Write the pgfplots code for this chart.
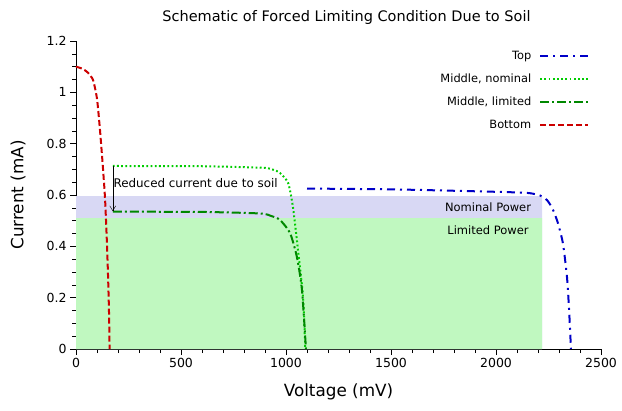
\documentclass[border=0pt]{standalone}
\usepackage{pgfplots}
\pgfplotsset{compat=1.18}
\usepackage{fontspec}
\setmainfont{DejaVu Sans}
\usetikzlibrary{calc,arrows.meta}
\definecolor{topblue}{RGB}{0,0,200}
\definecolor{nomgreen}{RGB}{0,204,0}
\definecolor{limgreen}{RGB}{0,136,0}
\definecolor{botred}{RGB}{204,0,0}
\definecolor{nomfill}{RGB}{216,216,244}
\definecolor{limfill}{RGB}{192,248,192}
\begin{document}
\begin{tikzpicture}
\begin{axis}[
  scale only axis, width=525pt, height=308pt,
  xmin=0, xmax=2500, ymin=0, ymax=1.2,
  axis lines=left, axis line style={-},
  tick align=outside,
  xtick={0,500,...,2500}, ytick={0,0.2,...,1.2},
  minor x tick num=4, minor y tick num=3,
  major tick length=6pt, minor tick length=4pt,
  tick style={black, thin},
  /pgf/number format/assume math mode=true,
  /pgf/number format/1000 sep={},
  yticklabel style={/pgf/number format/fixed, /pgf/number format/precision=1},
  ticklabel style={font=\fontsize{12.5}{14}\selectfont},
  xlabel={Voltage (mV)}, ylabel={Current (mA)},
  every axis x label/.style={at={(axis description cs:0.5,-0.1396)}, anchor=center, font=\fontsize{16.8}{18}\selectfont},
  every axis y label/.style={at={(axis description cs:-0.1105,0.5)}, anchor=center, rotate=90, font=\fontsize{16.8}{18}\selectfont},
  title={Schematic of Forced Limiting Condition Due to Soil},
  every axis title/.style={at={(axis description cs:0.5152,1.0763)}, anchor=center, font=\fontsize{14.5}{16}\selectfont},
  legend plot pos=right,
  legend cell align=right,
  legend image code/.code={\draw[#1] (0pt,0pt) -- (48pt,0pt);},
  legend style={draw=none, fill=none, at={(0.978,0.975)}, anchor=north east,
    font=\fontsize{11.4}{13}\selectfont, row sep=9pt, column sep=6pt, inner sep=0pt},
  clip=false,
]
% shaded regions
\addplot[draw=none, fill=nomfill, forget plot] coordinates {(0,0) (2220,0) (2220,0.596) (0,0.596)} \closedcycle;
\addplot[draw=none, fill=limfill, forget plot] coordinates {(0,0) (2220,0) (2220,0.51) (0,0.51)} \closedcycle;
\node[font=\fontsize{11.5}{13}\selectfont] at (axis cs:1962,0.553) {Nominal Power};
\node[font=\fontsize{11.5}{13}\selectfont] at (axis cs:1962,0.462) {Limited Power};
% Top
\addplot[topblue, line width=2pt, dash pattern=on 8pt off 5pt on 2pt off 5pt, smooth, tension=0.4] coordinates {
(1100,0.625) (1500,0.622) (1924,0.614) (2100,0.610) (2162,0.607) (2210,0.598) (2243,0.58) (2270,0.545) (2295,0.49) (2319,0.41) (2338,0.28) (2348,0.152) (2357,0.0)};
\addlegendentry{Top}
% Middle nominal
\addplot[nomgreen, line width=2pt, dash pattern=on 1.8pt off 2.4pt, smooth, tension=0.4] coordinates {
(175,0.713) (600,0.712) (890,0.706) (940,0.698) (971,0.686) (1010,0.647) (1033,0.553) (1057,0.386) (1081,0.203) (1092,0.0)};
\addlegendentry{Middle, nominal}
% Middle limited
\addplot[limgreen, line width=2pt, dash pattern=on 9pt off 3pt on 2pt off 3pt, smooth, tension=0.4] coordinates {
(175,0.535) (600,0.534) (876,0.528) (930,0.518) (971,0.503) (1019,0.452) (1052,0.358) (1076,0.23) (1095,0.0)};
\addlegendentry{Middle, limited}
% Bottom
\addplot[botred, line width=2pt, dash pattern=on 6pt off 3pt, smooth, tension=0.4] coordinates {
(0,1.1) (30,1.092) (55,1.078) (81,1.048) (100,0.975) (114,0.855) (127,0.72) (138,0.59) (146,0.44) (152,0.3) (157,0.15) (160,0.0)};
\addlegendentry{Bottom}
% annotation
\draw[black, thin, -{Straight Barb[length=5pt,width=6pt]}] (axis cs:175,0.713) -- (axis cs:175,0.537);
\node[anchor=west, inner sep=0pt, font=\fontsize{11.9}{13}\selectfont] at (axis cs:178,0.645) {Reduced current due to soil};
\end{axis}
\pgfresetboundingbox
\path ($(current axis.south west)+(-76pt,-62pt)$) rectangle ($(current axis.north east)+(21pt,41pt)$);
\end{tikzpicture}
\end{document}
